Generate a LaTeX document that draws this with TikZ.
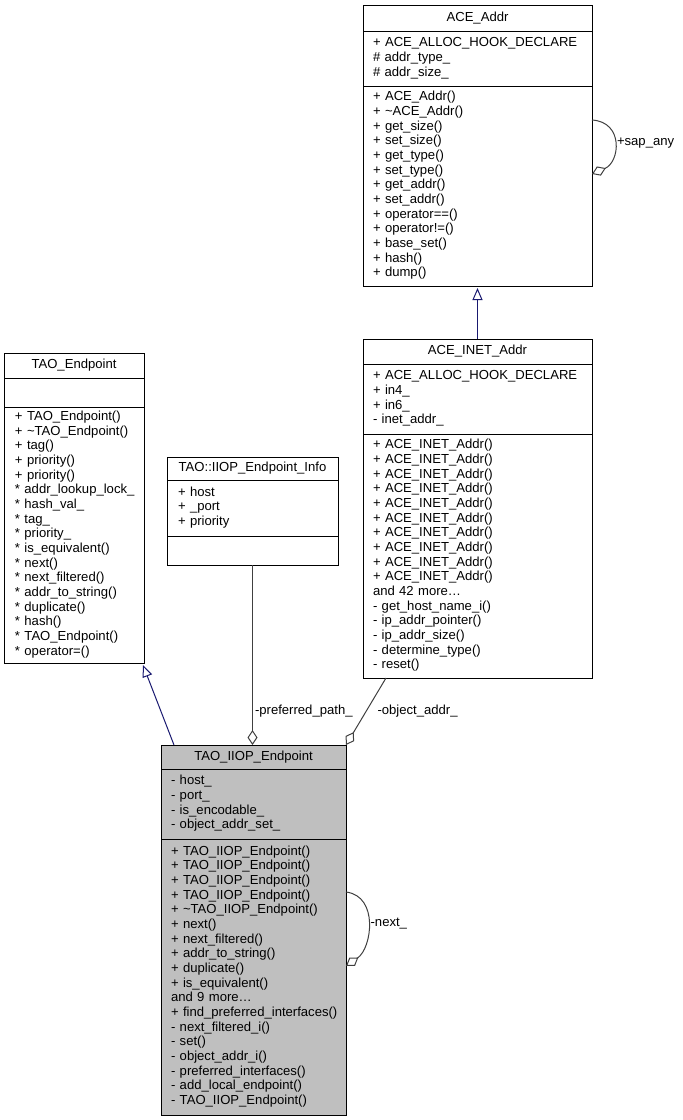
\documentclass[tikz,border=0pt]{standalone}
\usepackage{fontspec}
\setmainfont{Liberation Sans}
\usetikzlibrary{arrows.meta,positioning}
\definecolor{InheritClr}{rgb}{0.098,0.098,0.439}
\definecolor{UsageClr}{rgb}{0.25,0.25,0.25}
\definecolor{FocusClr}{rgb}{0.75,0.75,0.75}
\newcommand{\ClsFont}{\fontsize{13.1pt}{14.67pt}\selectfont}
\newcommand{\ClsRows}[1]{\begin{tabular}{@{}l@{}}#1\end{tabular}}

\begin{document}
\begin{tikzpicture}[x=1pt,y=-1pt,
  box/.style={draw=black,line width=1pt,fill=white,rectangle,outer sep=0pt,inner sep=0pt,font=\ClsFont},
  boxtitle/.style={box,align=center},
  boxbody/.style={box,align=left},
  inherit/.style={draw=InheritClr,line width=1pt,-{Triangle[open,length=12pt,width=10pt]}},
  usage/.style={draw=UsageClr,line width=1pt,-{Diamond[open,length=15pt,width=10pt]}},
  role/.style={font=\ClsFont,inner sep=2pt,anchor=west}]
\useasboundingbox (0,0) rectangle (683,1120);

\node[boxtitle,minimum width=229pt,minimum height=26pt,anchor=north west] (addr) at (363,5) {ACE\_Addr};
\node[boxbody,minimum width=229pt,minimum height=55pt,text width=209pt,below=0pt of addr] (addr-attr)
  {\ClsRows{+ ACE\_ALLOC\_HOOK\_DECLARE\\\# addr\_type\_\\\# addr\_size\_}};
\node[boxbody,minimum width=229pt,minimum height=200pt,text width=209pt,below=0pt of addr-attr] (addr-meth)
  {\ClsRows{+ ACE\_Addr()\\+ \textasciitilde ACE\_Addr()\\+ get\_size()\\+ set\_size()\\+ get\_type()\\+ set\_type()\\+ get\_addr()\\+ set\_addr()\\+ operator==()\\+ operator!=()\\+ base\_set()\\+ hash()\\+ dump()}};

\node[boxtitle,minimum width=229pt,minimum height=25pt,anchor=north west] (inet) at (363,339) {ACE\_INET\_Addr};
\node[boxbody,minimum width=229pt,minimum height=70pt,text width=209pt,below=0pt of inet] (inet-attr)
  {\ClsRows{+ ACE\_ALLOC\_HOOK\_DECLARE\\+ in4\_\\+ in6\_\\- inet\_addr\_}};
\node[boxbody,minimum width=229pt,minimum height=244pt,text width=209pt,below=0pt of inet-attr] (inet-meth)
  {\ClsRows{+ ACE\_INET\_Addr()\\+ ACE\_INET\_Addr()\\+ ACE\_INET\_Addr()\\+ ACE\_INET\_Addr()\\+ ACE\_INET\_Addr()\\+ ACE\_INET\_Addr()\\+ ACE\_INET\_Addr()\\+ ACE\_INET\_Addr()\\+ ACE\_INET\_Addr()\\+ ACE\_INET\_Addr()\\and 42 more\ldots\\- get\_host\_name\_i()\\- ip\_addr\_pointer()\\- ip\_addr\_size()\\- determine\_type()\\- reset()}};

\node[boxtitle,minimum width=140pt,minimum height=25pt,anchor=north west] (tep) at (4,353) {TAO\_Endpoint};
\node[boxbody,minimum width=140pt,minimum height=29pt,text width=118pt,below=0pt of tep] (tep-attr) {};
\node[boxbody,minimum width=140pt,minimum height=256pt,text width=118pt,below=0pt of tep-attr] (tep-meth)
  {\ClsRows{+ TAO\_Endpoint()\\+ \textasciitilde TAO\_Endpoint()\\+ tag()\\+ priority()\\+ priority()\\{*} addr\_lookup\_lock\_\\{*} hash\_val\_\\{*} tag\_\\{*} priority\_\\{*} is\_equivalent()\\{*} next()\\{*} next\_filtered()\\{*} addr\_to\_string()\\{*} duplicate()\\{*} hash()\\{*} TAO\_Endpoint()\\{*} operator=()}};

\node[boxtitle,minimum width=171pt,minimum height=23pt,anchor=north west] (info) at (167,457) {TAO::IIOP\_Endpoint\_Info};
\node[boxbody,minimum width=171pt,minimum height=56pt,text width=149pt,below=0pt of info] (info-attr)
  {\ClsRows{+ host\\+ \_port\\+ priority}};
\node[boxbody,minimum width=171pt,minimum height=29pt,text width=149pt,below=0pt of info-attr] (info-meth) {};

\node[boxtitle,fill=FocusClr,minimum width=185pt,minimum height=24pt,anchor=north west] (iiop) at (161,745) {TAO\_IIOP\_Endpoint};
\node[boxbody,fill=FocusClr,minimum width=185pt,minimum height=70pt,text width=165pt,below=0pt of iiop] (iiop-attr)
  {\ClsRows{- host\_\\- port\_\\- is\_encodable\_\\- object\_addr\_set\_}};
\node[boxbody,fill=FocusClr,minimum width=185pt,minimum height=276pt,text width=165pt,below=0pt of iiop-attr] (iiop-meth)
  {\ClsRows{+ TAO\_IIOP\_Endpoint()\\+ TAO\_IIOP\_Endpoint()\\+ TAO\_IIOP\_Endpoint()\\+ TAO\_IIOP\_Endpoint()\\+ \textasciitilde TAO\_IIOP\_Endpoint()\\+ next()\\+ next\_filtered()\\+ addr\_to\_string()\\+ duplicate()\\+ is\_equivalent()\\and 9 more\ldots\\+ find\_preferred\_interfaces()\\- next\_filtered\_i()\\- set()\\- object\_addr\_i()\\- preferred\_interfaces()\\- add\_local\_endpoint()\\- TAO\_IIOP\_Endpoint()}};

\draw[inherit] (inet.north) -- ([yshift=-2pt]addr-meth.south);
\draw[inherit] ([xshift=13pt]iiop.north west) -- ([xshift=-1pt,yshift=-2pt]tep-meth.south east);
\draw[usage] (info-meth.south) -- (info-meth.south |- iiop.north)
  node[role,pos=0.81] {-preferred\_path\_};
\draw[usage] ([xshift=23pt]inet-meth.south west) -- (iiop.north east)
  node[role,pos=0.5,xshift=9pt] {-object\_addr\_};
\draw[usage] ([yshift=-34pt]addr-meth.north east) .. controls +(32pt,-2pt) and +(28pt,12pt) .. ([yshift=-88pt]addr-meth.north east)
  node[role,pos=0.5] {+sap\_any};
\draw[usage] ([yshift=-53pt]iiop-meth.north east) .. controls +(33pt,-4pt) and +(26pt,18pt) .. ([yshift=-127pt]iiop-meth.north east)
  node[role,pos=0.5] {-next\_};
\end{tikzpicture}
\end{document}
